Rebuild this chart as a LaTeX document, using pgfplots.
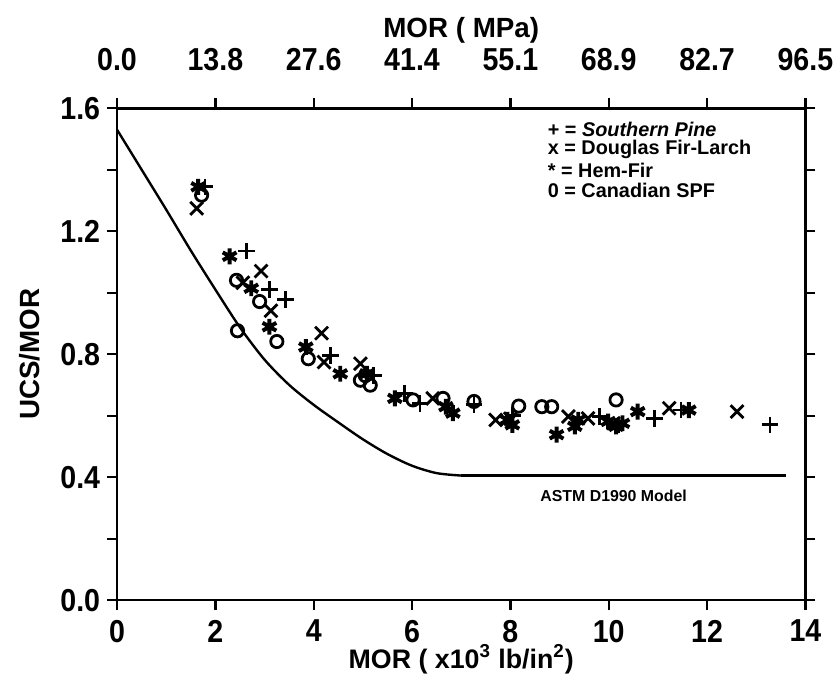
\documentclass[border=0pt]{standalone}
\usepackage{fontspec}
\setmainfont{Liberation Sans}
\newfontfamily\tickfont{Liberation Sans}[FakeStretch=0.9]
\usepackage{pgfplots}
\pgfplotsset{compat=1.18}

% ASTM D1990 model curve (UCS/MOR vs MOR, ksi)
\pgfplotstableread{
x y
0.0 1.530
0.5 1.400
1.0 1.270
1.5 1.137
2.0 1.010
2.5 0.887
3.0 0.782
3.5 0.700
4.0 0.635
4.5 0.578
5.0 0.523
5.5 0.475
6.0 0.437
6.5 0.413
7.0 0.405
}\astmcurve

\pgfplotsset{
  base/.style={
    scale only axis, width=347pt, height=248pt,
    xmin=0, xmax=14, ymin=0, ymax=1.6,
    tick align=outside,
    major tick length=5pt, minor tick length=5pt,
    every tick/.style={black, line width=1pt},
    ticklabel style={font=\tickfont\fontsize{16}{18}\selectfont\bfseries},
    clip=false,
  },
}

\begin{document}
\begin{tikzpicture}
\begin{axis}[base,
  axis line style={line width=1.4pt},
  xtick={0,2,4,6,8,10,12,14}, xticklabels={0,2,4,6,8,10,12,14},
  xtick style={black, line width=1.2pt},
  xticklabel style={yshift=-1.5pt},
  ytick={0,0.4,0.8,1.2,1.6}, yticklabels={0.0,0.4,0.8,1.2,1.6},
  minor ytick={0.2,0.6,1.0,1.4},
]
  \coordinate (bbSW) at (rel axis cs:-0.170,-0.155);
  \coordinate (bbNE) at (rel axis cs:1.043,1.2198);

  \addplot[black, line width=1.2pt, smooth] table {\astmcurve};
  \addplot[black, line width=1.2pt] coordinates {(7.0,0.405) (13.6,0.405)};

  % Southern Pine
  \addplot[only marks, mark=+, mark size=4.2pt, mark options={line width=1.4pt}] coordinates {
    (1.79,1.344) (2.63,1.135) (3.10,1.011) (3.43,0.978) (4.34,0.796)
    (5.21,0.731) (5.85,0.672) (6.16,0.640) (7.26,0.635) (8.05,0.600)
    (9.82,0.597) (10.20,0.570) (10.93,0.591) (11.47,0.618) (13.28,0.570)
  };
  % Douglas Fir-Larch
  \addplot[only marks, mark=x, mark size=4.6pt, mark options={line width=1.4pt}] coordinates {
    (1.62,1.274) (2.56,1.032) (2.93,1.070) (3.13,0.941) (4.16,0.868)
    (4.21,0.774) (4.95,0.769) (6.42,0.656) (7.70,0.586) (8.00,0.590)
    (9.18,0.597) (9.58,0.591) (10.10,0.575) (11.23,0.624) (12.61,0.613)
  };
  % Hem-Fir
  \addplot[only marks, mark=asterisk, mark size=4pt, mark options={line width=2pt}] coordinates {
    (1.65,1.344) (2.29,1.118) (2.73,1.014) (3.10,0.889) (3.84,0.823)
    (4.54,0.736) (5.08,0.736) (5.65,0.656) (6.69,0.629) (6.83,0.608)
    (7.94,0.586) (8.04,0.570) (8.94,0.538) (9.31,0.565) (9.38,0.586)
    (9.99,0.581) (10.15,0.565) (10.28,0.575) (10.59,0.613) (11.63,0.618)
  };
  % Canadian SPF
  \addplot[only marks, mark=o, mark size=3.1pt, mark options={line width=1.4pt}] coordinates {
    (1.72,1.317) (2.43,1.040) (2.45,0.876) (2.90,0.971) (3.25,0.841)
    (3.89,0.785) (4.95,0.715) (5.05,0.730) (5.15,0.699) (6.02,0.651)
    (6.63,0.656) (7.26,0.646) (8.17,0.631) (8.64,0.629) (8.84,0.629)
    (10.15,0.651)
  };

  \node[anchor=west, font=\fontsize{10}{12}\selectfont\bfseries] at (axis cs:8.62,1.532) {+ = \textit{Southern Pine}};
  \node[anchor=west, font=\fontsize{10}{12}\selectfont\bfseries] at (axis cs:8.62,1.465) {x = Douglas Fir-Larch};
  \node[anchor=west, font=\fontsize{10}{12}\selectfont\bfseries] at (axis cs:8.62,1.397) {* = Hem-Fir};
  \node[anchor=west, font=\fontsize{10}{12}\selectfont\bfseries] at (axis cs:8.62,1.332) {0 = Canadian SPF};
  \node[font=\fontsize{8}{10}\selectfont\bfseries] at (axis cs:10.1,0.34) {ASTM D1990 Model};

  \node[inner sep=0.5pt, font=\fontsize{13.5}{15}\selectfont\bfseries] at (rel axis cs:0.5,-0.12) {MOR ( x10\textsuperscript{3} lb/in\textsuperscript{2})};
  \node[font=\fontsize{14}{16}\selectfont\bfseries, rotate=90] at (rel axis cs:-0.127,0.5) {UCS/MOR};
  \node[font=\fontsize{14}{16}\selectfont\bfseries] at (rel axis cs:0.5,1.159) {MOR ( MPa)};
\end{axis}
\begin{axis}[base,
  axis line style={draw=none},
  xtick={0,2,4,6,8,10,12,14},
  xticklabels={0.0,13.8,27.6,41.4,55.1,68.9,82.7,96.5},
  xtick style={draw=none},
  xticklabel pos=right,
  xticklabel style={yshift=10.5pt},
  ytick=\empty,
]
\end{axis}
\pgfresetboundingbox
\path[use as bounding box] (bbSW) rectangle (bbNE);
\end{tikzpicture}
\end{document}
